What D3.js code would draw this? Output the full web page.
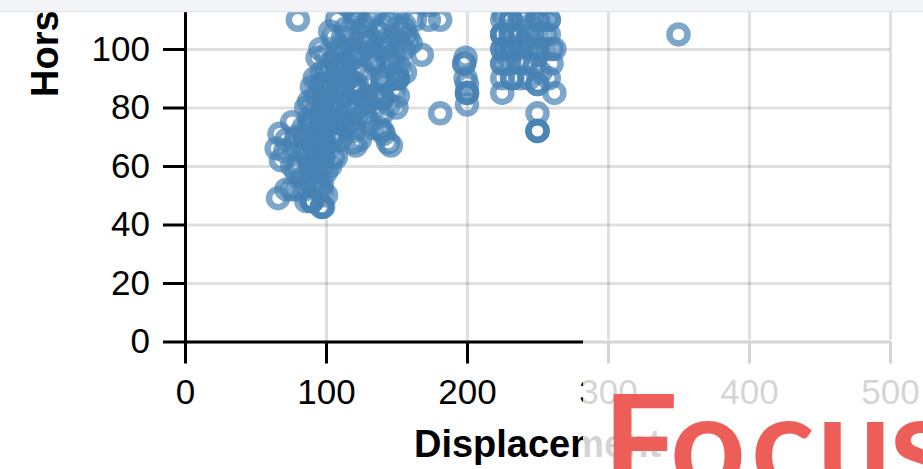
<!DOCTYPE html>
<html><head><meta charset="utf-8">
<script src="https://cdn.jsdelivr.net/npm/d3@7"></script>
<style>body{margin:0;background:#fff;overflow:hidden}</style>
</head><body>
<svg id="c" width="923" height="469"></svg>
<script>
// Cars data (Displacement vs Horsepower)
const displacement = [
  66,72,76,80,85,86,90,90,90,90,97,97,98,97,97,91,91,95,100,88,83,
  79,76,81,89,91,97,97,89,105,107,98,98,86,86,85,98,71,65,68,93,100,103,94,
  67,72,79,98,91,91,97,91,98,98,119,121,144,146,124,85,85,90,97,105,105,98,79,141,90,97,120,107,133,138,140,113,97,90,90,107,108,116,112,76,100,130,84,110,102,
  88,121,104,97,97,140,122,98,97.5,91,120,86,134,140,98,130,122,122,122,140,135,135,151,104,110,116,112,150,88,93,100,115,127,145,106,128,92,
  97,97,97,110,120,120,140,112,112,151,151,151,140,140,116,107,114,97,108,108,113,113,113,104,134,134,144,150,92,95,100,105,130,126,122,146,101,90,156,148,152,
  120,120,130,131,141,134,121,110,115,100,140,135,155,152,105,112,119,127,145,94,96,107,125,148,158,
  128,137,143,150,160,118,132,147,
  80,155,156,156,121,121,121,121,140,108,131,114,126,135,145,163,168,173,173,181,115,103,150,
  168,181,199,198,198,199,200,200,200,200,200,
  225,225,225,225,225,225,225,225,225,225,232,232,232,232,232,232,232,231,231,231,231,231,
  250,250,250,250,250,250,250,250,250,250,250,250,250,258,258,258,262,260,260,236,240,245,228,238,
  228,230,235,235,240,242,245,246,248,253,255,255,258,262,226,238,244,252,
  350,
  307,350,318,304,302,429,454,440,455,390,383,340,400,360,307,318,304,351,400,258,163,168,146,156,163,231,318,350,302,400,360,305
];
const horsepower = [
  49,52,52,52,52,48,48,48,48,48,46,46,46,52,54,53,53,52,50,55,56,
  58,60,60,60,60,60,60,62,63,63,63,63,64,65,65,65,65,66,62,58,58,60,63,
  71,69,67,66,67,67,67,68,68,68,68,67,68,67,69,70,70,70,70,70,70,70,70,71,71,71,72,72,73,73,72,74,75,75,75,75,75,75,74,75,75,75,73,69,66,
  76,76,76,78,78,78,80,80,80,80,79,80,80,83,83,82,85,86,86,84,84,84,84,82,85,81,85,80,82,84,80,78,83,81,79,77,78,
  88,88,88,87,87,88,88,88,88,90,90,90,90,90,90,90,91,92,93,94,95,95,95,95,95,96,96,92,90,88,88,86,90,93,88,90,92,87,92,86,94,
  97,97,102,103,103,96,98,100,100,98,100,100,100,102,104,104,100,104,102,97,100,97,99,98,104,
  108,106,100,107,102,104,98,95,
  110,107,108,105,110,112,113,115,108,110,110,107,106,112,110,110,116,110,115,110,115,106,114,
  98,78,97,95,95,90,88,85,85,85,81,
  85,90,95,95,100,100,105,105,105,110,90,90,100,100,100,100,105,105,105,110,110,110,
  72,72,72,78,88,88,98,100,100,100,105,110,110,110,110,90,85,95,100,96,102,108,98,90,
  100,95,105,100,110,95,100,105,95,110,100,105,105,100,112,112,90,92,
  105,
  130,165,150,150,140,198,220,215,225,190,170,160,150,215,200,210,193,153,175,120,125,132,120,122,133,165,140,145,129,180,150,145
];
const xTicks = [0,100,200,300,400,500];
const yTicks = [0,20,40,60,80,100,120,140,160,180,200,220,240];
const xTitle = "Displacement";
const yTitle = "Horsepower";
const focusWord = ["F","o","c","u","s"];

const svg = d3.select('#c');
const left = 185, bottom = 341.5, pw = 705, ph = 702;
const x = d3.scaleLinear().domain([0,500]).range([0,pw]);
const y = d3.scaleLinear().domain([0,240]).range([ph,0]);
const g = svg.append('g').attr('transform',`translate(${left},${bottom-ph})`);

// grid
g.append('g').call(d3.axisLeft(y).tickValues(yTicks).tickSize(-pw).tickFormat(''))
  .call(s=>s.select('.domain').remove())
  .selectAll('line').attr('stroke','#000').attr('stroke-opacity',0.12).attr('stroke-width',3);
g.append('g').attr('transform',`translate(0,${ph})`)
  .call(d3.axisBottom(x).tickValues(xTicks).tickSize(-ph).tickFormat(''))
  .call(s=>s.select('.domain').remove())
  .selectAll('line').attr('stroke','#000').attr('stroke-opacity',0.12).attr('stroke-width',3);

// points
g.append('g').selectAll('circle').data(d3.range(displacement.length)).join('circle')
  .attr('cx',i=>x(displacement[i])).attr('cy',i=>y(horsepower[i])).attr('r',9)
  .attr('fill','none').attr('stroke','steelblue').attr('stroke-opacity',0.7).attr('stroke-width',6.5);

// axes
const font = "'Liberation Sans', Arial, Helvetica, sans-serif";
const xa = g.append('g').attr('transform',`translate(0,${ph})`)
  .call(d3.axisBottom(x).tickValues(xTicks).tickSize(22).tickSizeOuter(0).tickPadding(16));
const ya = g.append('g')
  .call(d3.axisLeft(y).tickValues(yTicks).tickSize(22).tickSizeOuter(0).tickPadding(13));
[xa,ya].forEach(a=>{
  a.select('.domain').attr('stroke','#000').attr('stroke-width',3);
  a.selectAll('.tick line').attr('stroke','#000').attr('stroke-width',3);
  a.selectAll('.tick text').attr('fill','#000').style('font-family',font).style('font-size','35px');
});

// titles
svg.append('text').attr('x',left+pw/2).attr('y',457).attr('text-anchor','middle')
  .style('font-family',font).style('font-size','38px').style('font-weight','bold').text(xTitle);
svg.append('text').attr('transform','translate(58,97) rotate(-90)').attr('text-anchor','start')
  .style('font-family',font).style('font-size','38px').style('font-weight','bold').text(yTitle);

// fade overlay on right part of axis
svg.append('rect').attr('x',583).attr('y',339.5).attr('width',340).attr('height',130)
  .attr('fill','#fff').attr('opacity',0.83);

// top band
svg.append('rect').attr('x',0).attr('y',0).attr('width',923).attr('height',11).attr('fill','#f4f5f8');
svg.append('line').attr('x1',0).attr('x2',923).attr('y1',11.5).attr('y2',11.5).attr('stroke','#e3e5ea').attr('stroke-width',1.5);

// Focus overlay word
const fx = [603,670,751,817,890];
const ft = svg.append('text').attr('y',490).attr('fill','#ee5e59')
  .style('font-family',"Lato, 'Open Sans', sans-serif").style('font-weight','700').style('font-size','132px');
ft.selectAll('tspan').data(focusWord).join('tspan').attr('x',(d,i)=>fx[i]).text(d=>d);
</script>
</body></html>
